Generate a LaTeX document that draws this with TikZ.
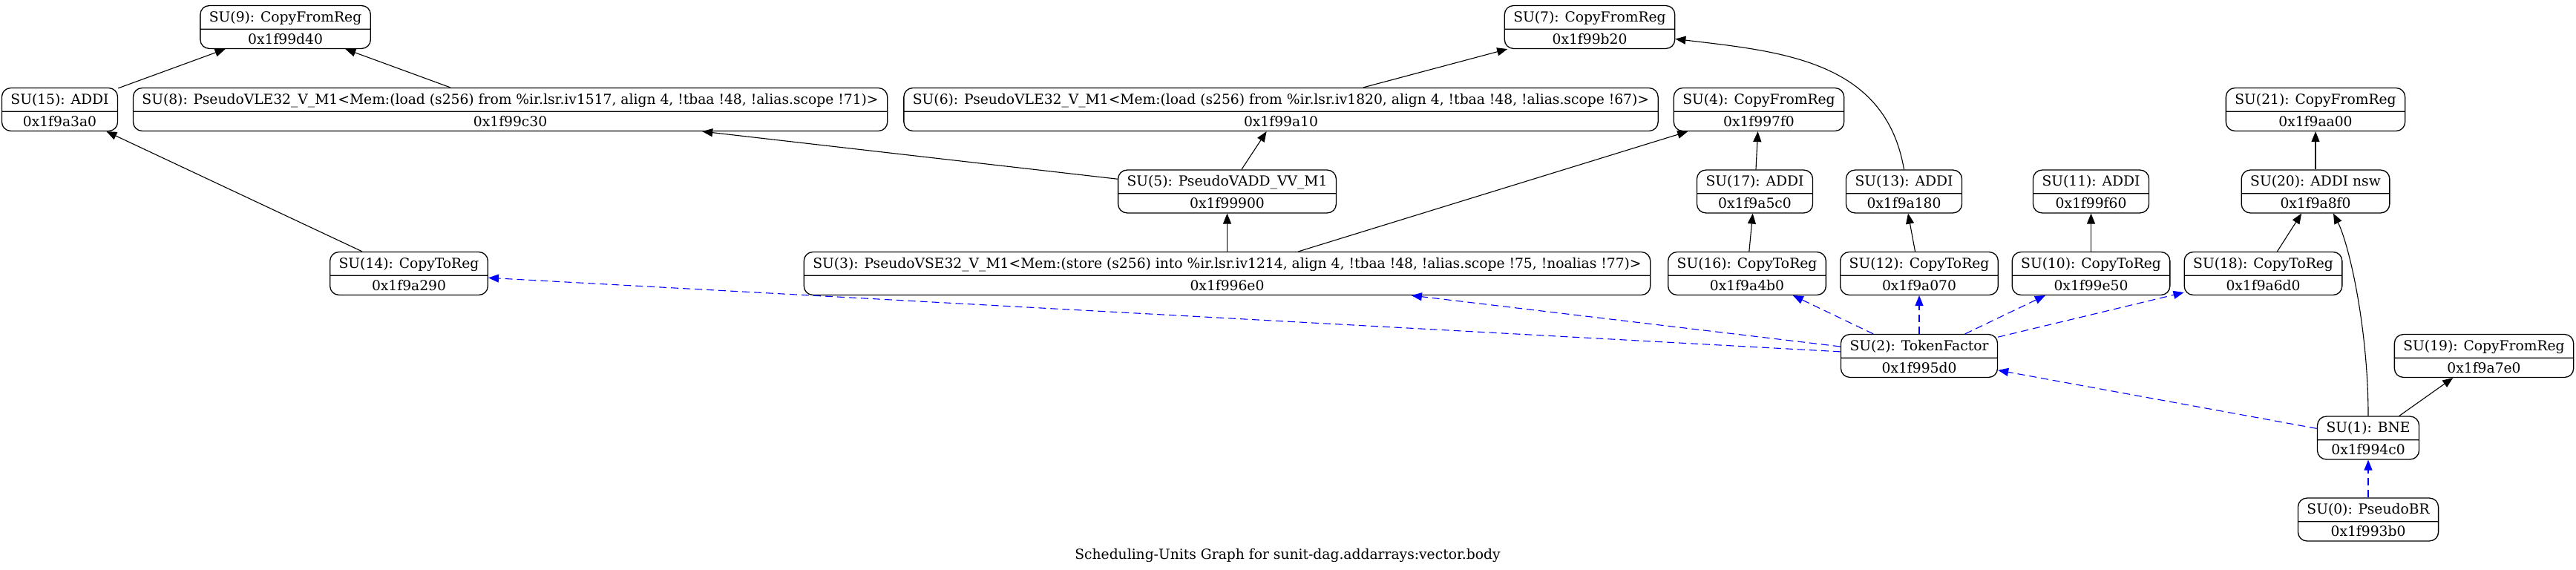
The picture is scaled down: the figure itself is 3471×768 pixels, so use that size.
\documentclass[tikz,border=0pt]{standalone}
\usepackage{fontspec}
\setmainfont{DejaVu Serif}
\usetikzlibrary{shapes.multipart,arrows.meta}
\tikzset{
  su/.style={rectangle split, rectangle split parts=2, draw, line width=1.3pt,
    rounded corners=12pt, inner xsep=12pt, inner ysep=5.2pt,
    text height=16pt, text depth=4pt, font=\fontsize{18.7}{22}\selectfont},
  dep/.style={-{Triangle[length=14pt,width=11pt]}, line width=1.1pt},
  ordr/.style={dep, blue, dash pattern=on 10pt off 6pt},
}
\begin{document}
\begin{tikzpicture}[x=1pt,y=1pt]
  \useasboundingbox (0,0) rectangle (3471,-768);
  \node[su] (su9)  at (384.6,-36.5) {SU(9): CopyFromReg \nodepart{two} 0x1f99d40};
  \node[su] (su7)  at (2142,-36.5) {SU(7): CopyFromReg \nodepart{two} 0x1f99b20};
  \node[su] (su15) at (80.5,-147.5) {SU(15): ADDI \nodepart{two} 0x1f9a3a0};
  \node[su] (su8)  at (687.6,-147.5) {SU(8): PseudoVLE32\_V\_M1<Mem:(load (s256) from \%ir.lsr.iv1517, align 4, !tbaa !48, !alias.scope !71)> \nodepart{two} 0x1f99c30};
  \node[su] (su6)  at (1726,-147.5) {SU(6): PseudoVLE32\_V\_M1<Mem:(load (s256) from \%ir.lsr.iv1820, align 4, !tbaa !48, !alias.scope !67)> \nodepart{two} 0x1f99a10};
  \node[su] (su4)  at (2370,-147.5) {SU(4): CopyFromReg \nodepart{two} 0x1f997f0};
  \node[su] (su21) at (3120,-147.5) {SU(21): CopyFromReg \nodepart{two} 0x1f9aa00};
  \node[su] (su5)  at (1653.5,-258) {SU(5): PseudoVADD\_VV\_M1 \nodepart{two} 0x1f99900};
  \node[su] (su17) at (2364.5,-258) {SU(17): ADDI \nodepart{two} 0x1f9a5c0};
  \node[su] (su13) at (2565.5,-258) {SU(13): ADDI \nodepart{two} 0x1f9a180};
  \node[su] (su11) at (2817.5,-258) {SU(11): ADDI \nodepart{two} 0x1f99f60};
  \node[su] (su20) at (3120,-258) {SU(20): ADDI nsw \nodepart{two} 0x1f9a8f0};
  \node[su] (su14) at (551,-368.5) {SU(14): CopyToReg \nodepart{two} 0x1f9a290};
  \node[su] (su3)  at (1653.5,-368.5) {SU(3): PseudoVSE32\_V\_M1<Mem:(store (s256) into \%ir.lsr.iv1214, align 4, !tbaa !48, !alias.scope !75, !noalias !77)> \nodepart{two} 0x1f996e0};
  \node[su] (su16) at (2354,-368.5) {SU(16): CopyToReg \nodepart{two} 0x1f9a4b0};
  \node[su] (su12) at (2586,-368.5) {SU(12): CopyToReg \nodepart{two} 0x1f9a070};
  \node[su] (su10) at (2817.5,-368.5) {SU(10): CopyToReg \nodepart{two} 0x1f99e50};
  \node[su] (su18) at (3049.5,-368.5) {SU(18): CopyToReg \nodepart{two} 0x1f9a6d0};
  \node[su] (su2)  at (2586,-479.5) {SU(2): TokenFactor \nodepart{two} 0x1f995d0};
  \node[su] (su19) at (3347,-479.5) {SU(19): CopyFromReg \nodepart{two} 0x1f9a7e0};
  \node[su] (su1)  at (3191,-590) {SU(1): BNE \nodepart{two} 0x1f994c0};
  \node[su] (su0)  at (3191,-700) {SU(0): PseudoBR \nodepart{two} 0x1f993b0};
  \node[anchor=base,font=\fontsize{18.7}{22}\selectfont] (title) at (1735,-753)
    {Scheduling-Units Graph for sunit-dag.addarrays:vector.body};
  % data edges
  \draw[dep] (su15) -- (su9);
  \draw[dep] (su8) -- (su9);
  \draw[dep] (su14) -- (su15);
  \draw[dep] (su6) -- (su7);
  \draw[dep] (su5) -- (su8);
  \draw[dep] (su5) -- (su6);
  \draw[dep] (su3) -- (su5);
  \draw[dep] (su3) -- (su4);
  \draw[dep] (su17) -- (su4);
  \draw[dep] (su16) -- (su17);
  \draw[dep] (su12) -- (su13);
  \draw[dep] (su10) -- (su11);
  \draw[dep] (su20) -- (su21);
  \draw[dep] (su18) -- (su20);
  \draw[dep] (su1) -- (su19);
  \draw[dep] (su13.north) .. controls +(-25,147) and +(143,-17) .. ([yshift=-16pt]su7.east);
  \draw[dep] (su1.north) .. controls +(0,119) and +(21,-41) .. ([xshift=24pt]su20.south);
  % order edges
  \draw[ordr] (su2) -- (su14);
  \draw[ordr] (su2) -- (su3);
  \draw[ordr] (su2) -- (su16);
  \draw[ordr] (su2) -- (su12);
  \draw[ordr] (su2) -- (su10);
  \draw[ordr] (su2) -- (su18);
  \draw[ordr] (su1) -- (su2);
  \draw[ordr] (su0) -- (su1);
\end{tikzpicture}
\end{document}
